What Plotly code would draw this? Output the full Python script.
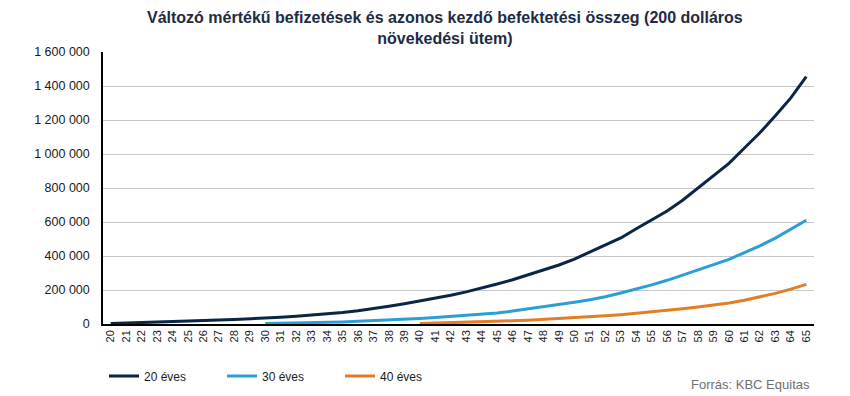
import plotly.graph_objects as go

ages = [str(a) for a in range(20, 66)]

s20 = [2400, 4800, 7400, 10200, 13200, 16400, 19800, 23400, 27000, 30500,
       34500, 39500, 45500, 52000, 59500, 68000, 78000, 90000, 104000, 119000,
       135000, 151000, 169000, 189000, 211000, 235000, 260000, 289000, 317000, 347000,
       382000, 422000, 464000, 506000, 560000, 612000, 665000, 728000, 800000, 870000,
       945000, 1035000, 1125000, 1225000, 1330000, 1455000]

s30 = [None]*10 + [2400, 3800, 5500, 7500, 9800, 12500, 15500, 19000, 23000, 27500,
                   32500, 38000, 44000, 50000, 57000, 65000, 76000, 88000, 101000, 114000,
                   128000, 143000, 160000, 182000, 205000, 230000, 257000, 288000, 318000, 348000,
                   380000, 420000, 460000, 505000, 555000, 610000]

s40 = [None]*20 + [2400, 4500, 7000, 9500, 12500, 15500, 19000, 22500, 27000, 31500,
                   36500, 42000, 48000, 55000, 63000, 71000, 80000, 90000, 100000, 111000,
                   124000, 140000, 158000, 180000, 205000, 233000]

names = ["20 éves", "30 éves", "40 éves"]
colors = ["#0b2545", "#2b9fd4", "#e37d26"]

ytickvals = [0, 200000, 400000, 600000, 800000, 1000000, 1200000, 1400000, 1600000]
yticktext = ["0", "200 000", "400 000", "600 000", "800 000", "1 000 000", "1 200 000", "1 400 000", "1 600 000"]

title_text = "<b>Változó mértékű befizetések és azonos kezdő befektetési összeg (200 dolláros<br>növekedési ütem)</b>"

# page body has an 8px margin, so the figure is drawn 8px smaller
W, H = 842, 388
L, R, T, B = 95, 36, 44, 72
PW, PH = W - L - R, H - T - B

fig = go.Figure()
for name, ys, c in zip(names, [s20, s30, s40], colors):
    fig.add_trace(go.Scatter(x=ages, y=ys, name=name, mode="lines",
                             line=dict(color=c, width=3), connectgaps=False))

fig.update_layout(
    width=W, height=H,
    margin=dict(l=L, r=R, t=T, b=B, autoexpand=False),
    paper_bgcolor="white", plot_bgcolor="white",
    font=dict(family="Liberation Sans, Arial, sans-serif", size=12, color="#1a1a1a"),
    showlegend=True,
    legend=dict(orientation="h", xref="container", yref="container",
                x=96 / W, xanchor="left", y=1 - 368 / H, yanchor="middle",
                entrywidth=73, entrywidthmode="pixels",
                font=dict(size=12, color="#1a1a1a"), itemwidth=30),
)
fig.update_xaxes(type="category", range=[-0.5, 45.5], tickangle=-90,
                 showline=True, linecolor="#000000", linewidth=1.5,
                 showgrid=False, ticks="", tickfont=dict(size=11, color="#1a1a1a"))
fig.update_yaxes(range=[0, 1600000], tickvals=ytickvals, ticktext=yticktext,
                 showline=True, linecolor="#000000", linewidth=1.5,
                 showgrid=True, gridcolor="#c8c8c8", gridwidth=1, zeroline=False,
                 ticks="", ticklen=0, ticklabelstandoff=9,
                 tickfont=dict(size=12.5, color="#1a1a1a"))

fig.add_annotation(text=title_text, xref="paper", yref="paper",
                   x=(437 - L) / PW, y=(316 - 20.5) / PH, xanchor="center", yanchor="middle",
                   showarrow=False, align="center",
                   font=dict(size=16, color="#1d2b45", family="Liberation Sans, Arial, sans-serif"))

fig.add_annotation(text="Forrás: KBC Equitas", xref="paper", yref="paper",
                   x=(804 - L) / PW, y=(316 - 376) / PH, xanchor="right", yanchor="middle",
                   showarrow=False, font=dict(size=13, color="#707070"))

fig.write_html("out.html")
